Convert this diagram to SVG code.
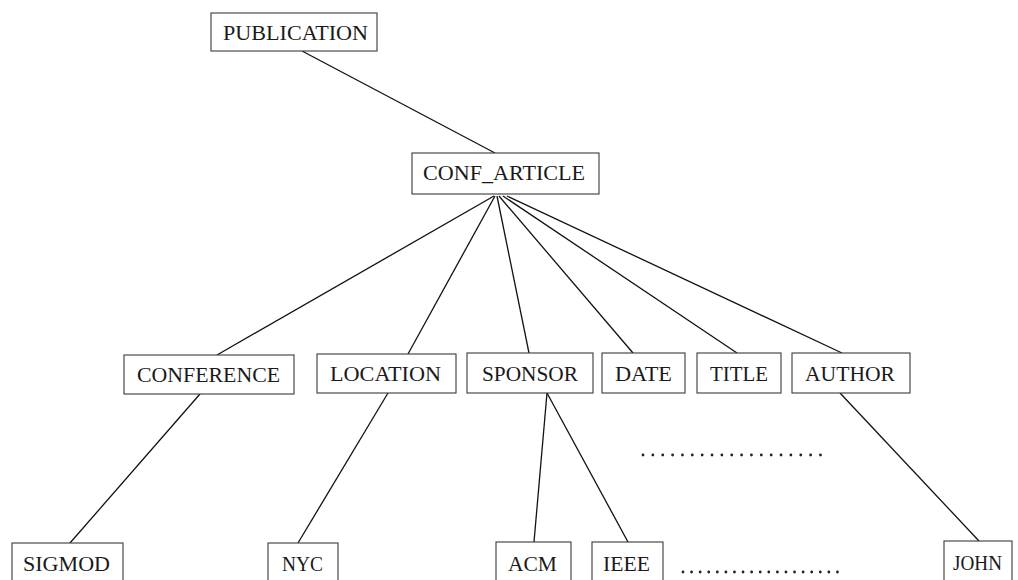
<svg xmlns="http://www.w3.org/2000/svg" width="1018" height="580" viewBox="0 0 1018 580">
  <style>
    .box { fill: #ffffff; stroke: #3a3a3a; stroke-width: 1.1; }
    .lbl { font-family: "Liberation Serif", "Times New Roman", serif; font-size: 20px; fill: #1a1a1a; text-anchor: start; }
    .edge { stroke: #111111; stroke-width: 1.3; fill: none; }
    .dots { stroke: #222222; stroke-width: 2.8; stroke-linecap: round; fill: none; }
  </style>
  <rect width="1018" height="580" fill="#ffffff"/>

  <!-- tree edges -->
  <g id="connectors">
    <line class="edge" x1="302" y1="51" x2="495" y2="153"/>
    <line class="edge" x1="494" y1="196" x2="217" y2="355"/>
    <line class="edge" x1="495" y1="196" x2="408" y2="354"/>
    <line class="edge" x1="497" y1="196" x2="529" y2="353"/>
    <line class="edge" x1="499" y1="196" x2="633" y2="353"/>
    <line class="edge" x1="503" y1="196" x2="737" y2="353"/>
    <line class="edge" x1="507" y1="196" x2="842" y2="353"/>
    <line class="edge" x1="200" y1="394" x2="70" y2="543"/>
    <line class="edge" x1="388" y1="393" x2="298" y2="543"/>
    <line class="edge" x1="547" y1="393" x2="534" y2="542"/>
    <line class="edge" x1="547" y1="393" x2="628" y2="542"/>
    <line class="edge" x1="840" y1="393" x2="979" y2="541"/>
  </g>

  <!-- ellipsis rows for omitted children -->
  <g id="ellipses">
    <line class="dots" x1="643" y1="455" x2="821" y2="455" stroke-dasharray="0 9.86"/>
    <line class="dots" x1="683" y1="572" x2="846" y2="572" stroke-dasharray="0 8.58"/>
  </g>

  <g id="publication">
    <rect class="box" x="211" y="13" width="166" height="38"/>
    <text class="lbl" x="223" y="40" textLength="145" lengthAdjust="spacingAndGlyphs">PUBLICATION</text>
  </g>
  <g id="conf_article">
    <rect class="box" x="412" y="153" width="187" height="41"/>
    <text class="lbl" x="423" y="180" textLength="162" lengthAdjust="spacingAndGlyphs">CONF_ARTICLE</text>
  </g>

  <g id="conference">
    <rect class="box" x="124" y="355" width="170" height="39"/>
    <text class="lbl" x="137" y="382" textLength="143" lengthAdjust="spacingAndGlyphs">CONFERENCE</text>
  </g>
  <g id="location">
    <rect class="box" x="317" y="354" width="139" height="39"/>
    <text class="lbl" x="330" y="381" textLength="111" lengthAdjust="spacingAndGlyphs">LOCATION</text>
  </g>
  <g id="sponsor">
    <rect class="box" x="467" y="353" width="126" height="40"/>
    <text class="lbl" x="482" y="381" textLength="96" lengthAdjust="spacingAndGlyphs">SPONSOR</text>
  </g>
  <g id="date">
    <rect class="box" x="602" y="353" width="83" height="40"/>
    <text class="lbl" x="615" y="381" textLength="57" lengthAdjust="spacingAndGlyphs">DATE</text>
  </g>
  <g id="title">
    <rect class="box" x="697" y="353" width="84" height="40"/>
    <text class="lbl" x="710" y="381" textLength="58" lengthAdjust="spacingAndGlyphs">TITLE</text>
  </g>
  <g id="author">
    <rect class="box" x="792" y="353" width="118" height="40"/>
    <text class="lbl" x="805" y="381" textLength="90" lengthAdjust="spacingAndGlyphs">AUTHOR</text>
  </g>

  <g id="sigmod">
    <rect class="box" x="12" y="543" width="111" height="50"/>
    <text class="lbl" x="23" y="571" textLength="87" lengthAdjust="spacingAndGlyphs">SIGMOD</text>
  </g>
  <g id="nyc">
    <rect class="box" x="268" y="543" width="70" height="50"/>
    <text class="lbl" x="282" y="571" textLength="41" lengthAdjust="spacingAndGlyphs">NYC</text>
  </g>
  <g id="acm">
    <rect class="box" x="496" y="542" width="75" height="50"/>
    <text class="lbl" x="508" y="571" textLength="49" lengthAdjust="spacingAndGlyphs">ACM</text>
  </g>
  <g id="ieee">
    <rect class="box" x="592" y="542" width="71" height="50"/>
    <text class="lbl" x="603" y="571" textLength="47" lengthAdjust="spacingAndGlyphs">IEEE</text>
  </g>
  <g id="john">
    <rect class="box" x="944" y="541" width="68" height="50"/>
    <text class="lbl" x="953" y="570" textLength="49" lengthAdjust="spacingAndGlyphs">JOHN</text>
  </g>
</svg>
